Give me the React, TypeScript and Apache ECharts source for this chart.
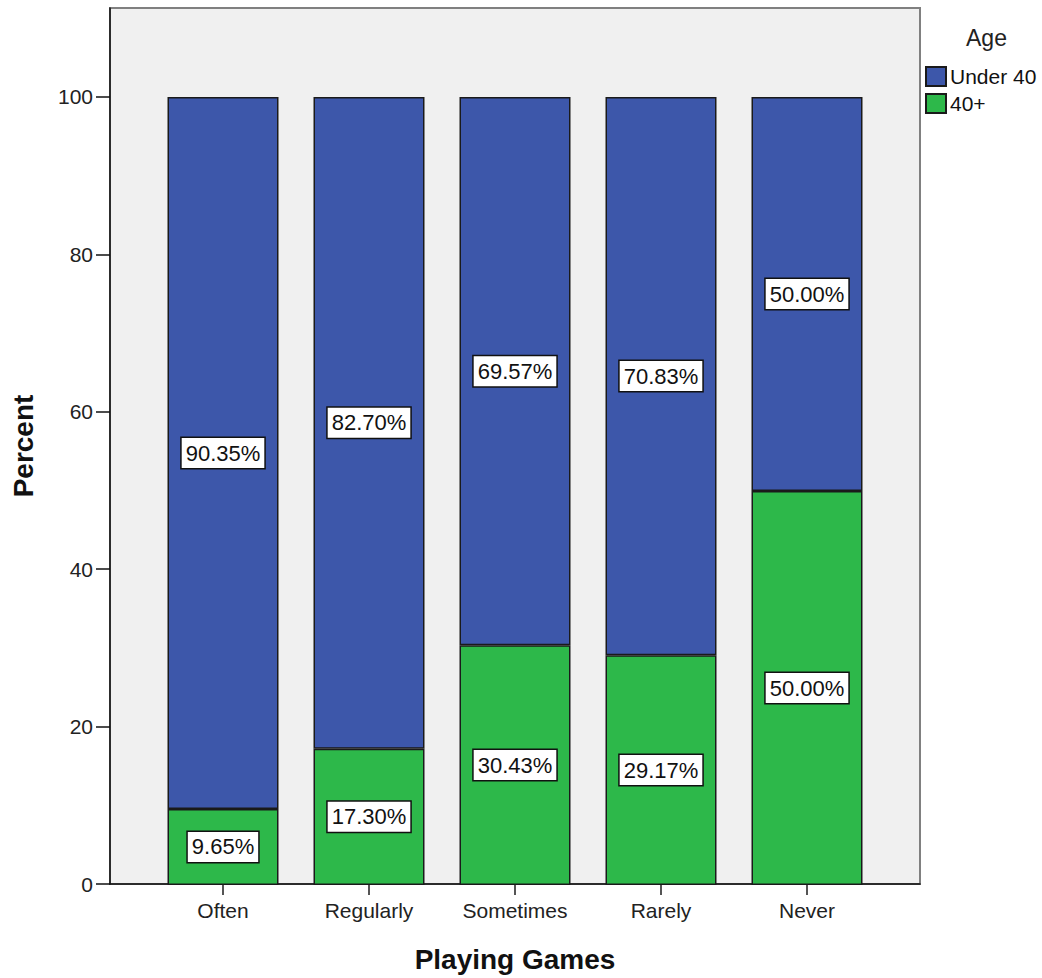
import React, { useEffect, useRef } from "react";
import * as echarts from "echarts";

const categories = ["Often", "Regularly", "Sometimes", "Rarely", "Never"];
const seriesNames = ["Under 40", "40+"];
const over40 = [9.65, 17.3, 30.43, 29.17, 50.0];
const under40 = [90.35, 82.7, 69.57, 70.83, 50.0];
const yTicks = [0, 20, 40, 60, 80, 100];
const colors = ["#3d57aa", "#2db84a"];

export default function App() {
  const ref = useRef<HTMLDivElement>(null);
  useEffect(() => {
    if (!ref.current) return;
    const chart = echarts.init(ref.current, null, { renderer: "svg" });
    const font = "'Liberation Sans', Arial, sans-serif";
    const label = {
      show: true,
      position: "inside",
      formatter: (p: any) => Number(p.value).toFixed(2) + "%",
      backgroundColor: "#ffffff",
      borderColor: "#111",
      borderWidth: 1.5,
      padding: [5, 4, 3, 4],
      color: "#111",
      fontSize: 22,
      fontFamily: font,
    };
    const yMax = 111.3;
    chart.setOption({
      animation: false,
      textStyle: { fontFamily: font },
      title: {
        text: "Age",
        left: 961,
        top: 21,
        textStyle: { fontSize: 23, fontWeight: "normal", color: "#222", fontFamily: font },
      },
      legend: {
        orient: "vertical",
        left: 925,
        top: 66,
        itemWidth: 20,
        itemHeight: 19,
        itemGap: 6,
        icon: "rect",
        padding: 0,
        textStyle: { fontSize: 21, color: "#111", fontFamily: font, padding: [0, 0, 0, -1] },
        data: seriesNames,
      },
      grid: [
        {
          left: 110,
          top: 8,
          width: 810,
          height: 877,
          show: true,
          backgroundColor: "#f0f0f0",
          borderColor: "#808080",
          borderWidth: 2,
        },
        {
          left: 150,
          top: 8,
          width: 730,
          height: 877,
        },
      ],
      xAxis: [
        {
          type: "value",
          gridIndex: 0,
          min: 0,
          max: 1,
          name: "Playing Games",
          nameLocation: "middle",
          nameGap: 61,
          nameTextStyle: { fontSize: 28, fontWeight: "bold", color: "#111", fontFamily: font },
          axisLine: { show: true, lineStyle: { color: "#111", width: 1.5 } },
          axisTick: { show: false },
          axisLabel: { show: false },
          splitLine: { show: false },
        },
        {
          type: "category",
          gridIndex: 1,
          data: categories,
          axisLine: { show: false },
          axisTick: { show: true, alignWithLabel: true, length: 10, lineStyle: { color: "#555", width: 2 } },
          axisLabel: { fontSize: 21, color: "#222", margin: 15, fontFamily: font, interval: 0 },
          splitLine: { show: false },
        },
      ],
      yAxis: [
        {
          type: "value",
          gridIndex: 0,
          min: 0,
          max: yMax,
          name: "Percent",
          nameLocation: "middle",
          nameGap: 73,
          nameTextStyle: { fontSize: 28, fontWeight: "bold", color: "#111", fontFamily: font },
          axisLine: { show: true, lineStyle: { color: "#111", width: 1.5 } },
          axisTick: { show: true, length: 14, lineStyle: { color: "#111", width: 1.5 }, customValues: yTicks },
          axisLabel: {
            customValues: yTicks,
            fontSize: 21,
            color: "#222",
            margin: 17,
            fontFamily: font,
          },
          splitLine: { show: false },
        },
        {
          type: "value",
          gridIndex: 1,
          min: 0,
          max: yMax,
          show: false,
          splitLine: { show: false },
        },
      ],
      series: [
        {
          name: seriesNames[1],
          type: "bar",
          xAxisIndex: 1,
          yAxisIndex: 1,
          stack: "total",
          barWidth: 111,
          itemStyle: { color: colors[1], borderColor: "#1a1a1a", borderWidth: 1.5 },
          label,
          data: over40,
        },
        {
          name: seriesNames[0],
          type: "bar",
          xAxisIndex: 1,
          yAxisIndex: 1,
          stack: "total",
          barWidth: 111,
          itemStyle: { color: colors[0], borderColor: "#1a1a1a", borderWidth: 1.5 },
          label,
          data: under40,
        },
      ],
    });
    return () => chart.dispose();
  }, []);
  return <div ref={ref} style={{ width: 1042, height: 978, position: "absolute", left: 0, top: 0 }} />;
}
